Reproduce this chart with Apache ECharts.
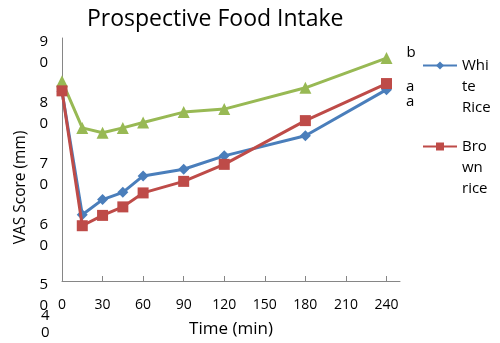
<!DOCTYPE html>
<html>
<head>
<meta charset="utf-8">
<script src="https://cdn.jsdelivr.net/npm/echarts@6/dist/echarts.min.js"></script>
<style>
  html, body {margin: 0; padding: 0; background: #fff;}
  #chart {width: 500px; height: 343px;}
</style>
</head>
<body>
<div id="chart"></div>
<script>
// time points (min)
const times = [0, 15, 30, 45, 60, 90, 120, 180, 240];
const xTicks = [0, 30, 60, 90, 120, 150, 180, 210, 240];
// VAS scores
const whiteRice = [81.2, 60.9, 63.4, 64.6, 67.3, 68.4, 70.6, 73.9, 81.5];
const brownRice = [81.3, 59.1, 60.8, 62.2, 64.5, 66.4, 69.2, 76.4, 82.5];
const third = [82.9, 75.2, 74.4, 75.2, 76.1, 77.8, 78.3, 81.8, 86.7];
// significance letters at the end of each line
const endLetters = {white: 'a', brown: 'a', third: 'b'};

const font = 'Open Sans';

function pairs(vals) {
    return times.map(function (t, i) {
        return [t, vals[i]];
    });
}

// wrapped tick labels, one digit per line like the original;
// the blank spacer line pushes the first digit down onto the tick
function wrapDigits(v) {
    return '{s| }\n' + String(v).split('').map(function (d) {
        return '{a|' + d + '}';
    }).join('\n');
}

function endLabel(letter, dy) {
    return {
        show: true,
        position: 'right',
        distance: 14,
        offset: [0, dy],
        fontFamily: font,
        fontSize: 15,
        color: '#000',
        formatter: function (p) {
            return p.dataIndex === times.length - 1 ? letter : '';
        }
    };
}

function legendText(lines) {
    return '{s| }\n' + lines.map(function (l) {
        return '{a|' + l + '}';
    }).join('\n');
}

const chart = echarts.init(document.getElementById('chart'));

const legendBase = {
    orient: 'vertical',
    left: 422,
    padding: 0,
    itemWidth: 34,
    itemHeight: 10,
    textStyle: {
        fontFamily: font,
        fontSize: 15,
        color: '#000',
        rich: {
            s: {lineHeight: 42, fontSize: 15},
            a: {lineHeight: 21, fontSize: 15, fontFamily: font, color: '#000'}
        }
    }
};

chart.setOption({
    animation: false,
    title: {
        text: 'Prospective Food Intake',
        left: 82,
        top: 3,
        textStyle: {
            fontFamily: font,
            fontSize: 23,
            fontWeight: 'normal',
            color: '#000'
        }
    },
    legend: [
        Object.assign({}, legendBase, {
            top: 26.5,
            data: ['White Rice'],
            formatter: function () {
                return legendText(['Whi', 'te', 'Rice']);
            }
        }),
        Object.assign({}, legendBase, {
            top: 107.5,
            data: ['Brown rice'],
            formatter: function () {
                return legendText(['Bro', 'wn', 'rice']);
            }
        })
    ],
    grid: {
        left: 62,
        right: 100,
        top: 38,
        bottom: 60
    },
    xAxis: {
        type: 'value',
        min: 0,
        max: 250,
        interval: 30,
        name: 'Time (min)',
        nameLocation: 'middle',
        nameGap: 40,
        nameTextStyle: {fontFamily: font, fontSize: 17, color: '#000'},
        splitLine: {show: false},
        axisLine: {lineStyle: {color: '#868686', width: 1}},
        axisTick: {show: true, inside: true, length: 5, customValues: xTicks, lineStyle: {color: '#868686'}},
        axisLabel: {
            customValues: xTicks,
            margin: 17,
            fontFamily: font,
            fontSize: 14,
            color: '#000'
        }
    },
    yAxis: {
        type: 'value',
        min: 50,
        max: 90,
        interval: 10,
        name: 'VAS Score (mm)',
        nameLocation: 'middle',
        nameGap: 30,
        nameTextStyle: {fontFamily: font, fontSize: 15.5, color: '#000', padding: [0, 56, 0, 0]},
        splitLine: {show: false},
        axisLine: {show: true, lineStyle: {color: '#868686', width: 1}},
        axisTick: {show: false},
        axisLabel: {
            margin: 14,
            showMinLabel: true,
            showMaxLabel: true,
            hideOverlap: false,
            formatter: wrapDigits,
            rich: {
                s: {lineHeight: 29, fontSize: 14},
                a: {lineHeight: 21, fontSize: 15, fontFamily: font, color: '#000'}
            }
        }
    },
    graphic: [{
        type: 'text',
        left: 41,
        top: 307,
        style: {
            text: '4\n0',
            fontFamily: font,
            fontSize: 15,
            lineHeight: 17,
            fill: '#000'
        }
    }],
    series: [
        {
            name: 'White Rice',
            type: 'line',
            data: pairs(whiteRice),
            symbol: 'diamond',
            symbolSize: 11,
            color: '#4A7EBB',
            lineStyle: {width: 3},
            label: endLabel(endLetters.white, 12),
            z: 3
        },
        {
            name: 'Brown rice',
            type: 'line',
            data: pairs(brownRice),
            symbol: 'rect',
            symbolSize: 11,
            color: '#BE4B48',
            lineStyle: {width: 3},
            label: endLabel(endLetters.brown, 3),
            z: 4
        },
        {
            name: 'third',
            type: 'line',
            data: pairs(third),
            symbol: 'triangle',
            symbolSize: 12,
            color: '#98B954',
            lineStyle: {width: 3},
            label: endLabel(endLetters.third, -5),
            z: 2
        }
    ]
});
</script>
</body>
</html>
